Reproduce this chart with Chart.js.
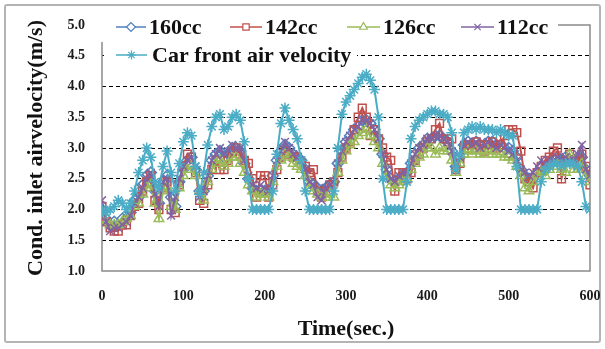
<!DOCTYPE html>
<html>
<head>
<meta charset="utf-8">
<script src="https://cdn.jsdelivr.net/npm/chart.js"></script>
<style>
body{margin:0;background:#fff;}
#frame{position:absolute;left:4px;top:4px;width:593px;height:335px;border:2px solid #b4b4b4;border-radius:3px;}
#wrap{position:absolute;left:0;top:0;width:605px;height:349px;}
</style>
</head>
<body>
<div id="frame"></div>
<div id="wrap"><canvas id="c"></canvas></div>
<script>
// time in seconds, one reading every 5 s
const times = [
  0,5,10,15,20,25,30,35,40,45,
  50,55,60,65,70,75,80,85,90,95,
  100,105,110,115,120,125,130,135,140,145,
  150,155,160,165,170,175,180,185,190,195,
  200,205,210,215,220,225,230,235,240,245,
  250,255,260,265,270,275,280,285,290,295,
  300,305,310,315,320,325,330,335,340,345,
  350,355,360,365,370,375,380,385,390,395,
  400,405,410,415,420,425,430,435,440,445,
  450,455,460,465,470,475,480,485,490,495,
  500,505,510,515,520,525,530,535,540,545,
  550,555,560,565,570,575,580,585,590,595,
  600
];

const v160 = [
  2.0,1.85,1.75,1.8,1.75,1.85,1.85,1.95,2.15,2.2,
  2.4,2.55,2.6,2.3,2.1,2.45,2.55,2.2,2.05,2.45,
  2.65,2.8,2.85,2.65,2.3,2.3,2.55,2.8,2.9,2.95,
  2.85,2.9,3.0,3.0,2.95,2.75,2.5,2.35,2.3,2.3,
  2.3,2.3,2.55,2.8,2.95,3.05,3.0,2.9,2.85,2.8,
  2.65,2.45,2.4,2.35,2.3,2.35,2.4,2.45,2.75,2.95,
  3.1,3.2,3.3,3.35,3.45,3.45,3.4,3.3,3.15,2.9,
  2.65,2.5,2.45,2.5,2.55,2.6,2.75,2.9,3.0,3.05,
  3.15,3.15,3.2,3.2,3.15,3.1,2.95,2.7,2.85,3.05,
  3.1,3.05,3.1,3.05,3.05,3.1,3.1,3.05,3.05,3.0,
  3.0,2.95,2.85,2.65,2.55,2.5,2.5,2.6,2.7,2.65,
  2.75,2.8,2.85,2.8,2.85,2.8,2.8,2.85,2.85,2.65,
  2.55
];

const v142 = [
  2.05,1.8,1.7,1.65,1.65,1.75,1.75,1.9,2.05,2.1,
  2.3,2.45,2.55,2.15,2.0,2.35,2.45,2.0,1.95,2.4,
  2.7,2.9,2.85,2.6,2.15,2.1,2.4,2.65,2.8,2.65,
  2.65,2.8,2.95,3.0,2.9,2.8,2.75,2.5,2.2,2.55,
  2.55,2.2,2.4,2.65,2.85,2.95,2.9,2.85,2.85,2.75,
  2.7,2.6,2.65,2.3,2.2,2.3,2.4,2.45,2.6,2.85,
  3.0,3.1,3.3,3.5,3.65,3.5,3.2,3.3,3.15,3.0,
  2.85,2.8,2.3,2.6,2.6,2.5,2.6,2.8,2.9,3.0,
  3.1,3.15,3.3,3.4,3.15,3.1,3.15,2.65,2.75,3.0,
  3.05,3.0,3.1,3.05,2.95,3.05,3.1,3.0,3.05,3.2,
  3.3,3.3,3.25,2.95,2.5,2.45,2.35,2.6,2.7,2.8,
  2.85,2.95,3.0,2.5,2.8,2.9,2.8,2.75,2.9,2.7,
  2.4
];

const v126 = [
  1.95,1.8,1.75,1.75,1.75,1.8,1.85,1.9,2.05,2.1,
  2.25,2.35,2.4,2.1,1.85,2.3,2.35,2.05,2.0,2.35,
  2.55,2.65,2.7,2.55,2.3,2.15,2.45,2.65,2.75,2.8,
  2.7,2.75,2.85,2.85,2.75,2.6,2.4,2.3,2.2,2.25,
  2.25,2.2,2.45,2.7,2.8,2.9,2.85,2.75,2.7,2.65,
  2.55,2.35,2.3,2.25,2.2,2.2,2.25,2.2,2.6,2.8,
  2.95,3.05,3.1,3.2,3.25,3.3,3.2,3.1,3.0,2.75,
  2.55,2.4,2.35,2.4,2.45,2.5,2.65,2.75,2.85,2.9,
  3.0,3.0,2.9,3.0,2.95,2.95,2.8,2.6,2.75,2.9,
  2.95,2.9,2.95,2.9,2.9,2.95,2.9,2.9,2.9,2.85,
  2.85,2.8,2.7,2.55,2.35,2.3,2.45,2.55,2.6,2.55,
  2.65,2.7,2.75,2.65,2.6,2.9,2.65,2.65,2.75,2.55,
  2.45
];

const v112 = [
  2.15,1.8,1.65,1.7,1.7,1.75,1.8,1.9,2.1,2.2,
  2.35,2.5,2.6,2.25,2.05,2.45,2.5,1.9,2.2,2.5,
  2.7,2.8,2.85,2.7,2.2,2.3,2.55,2.8,2.9,3.0,
  2.9,2.95,3.05,3.0,3.0,2.8,2.55,2.4,2.35,2.4,
  2.35,2.3,2.55,2.8,2.95,3.1,3.0,2.9,2.85,2.8,
  2.65,2.45,2.4,2.2,2.15,2.35,2.4,2.45,2.75,2.95,
  3.1,3.2,3.3,3.35,3.45,3.45,3.4,3.3,3.15,2.9,
  2.65,2.5,2.45,2.55,2.6,2.6,2.75,2.9,3.0,3.05,
  3.15,3.15,3.2,3.2,3.15,3.1,2.95,2.65,2.85,3.05,
  3.1,3.05,3.1,3.0,3.05,3.1,3.05,3.0,3.05,3.0,
  2.95,2.9,2.8,2.65,2.6,2.55,2.6,2.7,2.8,2.75,
  2.8,2.8,2.85,2.8,2.85,2.8,2.8,2.9,3.05,2.65,
  2.55
];

const vCar = [
  2.0,1.95,2.0,2.05,2.15,2.1,2.0,2.1,2.3,2.6,
  2.8,3.0,2.85,2.45,2.35,2.7,2.95,2.6,2.3,2.75,
  3.1,3.25,3.2,2.7,2.25,2.6,3.05,3.35,3.5,3.55,
  3.3,3.35,3.5,3.55,3.45,3.1,2.5,2.0,2.0,2.0,
  2.0,2.0,2.3,2.9,3.4,3.65,3.45,3.3,3.15,2.8,
  2.3,2.0,2.0,2.0,2.0,2.0,2.0,2.3,3.0,3.55,
  3.75,3.85,3.95,4.05,4.15,4.2,4.1,3.95,3.5,2.5,
  2.0,2.0,2.0,2.0,2.0,2.45,3.15,3.35,3.45,3.5,
  3.55,3.6,3.6,3.55,3.55,3.5,3.25,2.65,2.9,3.25,
  3.3,3.35,3.3,3.35,3.3,3.3,3.3,3.25,3.3,3.25,
  3.2,3.2,2.7,2.0,2.0,2.0,2.0,2.0,2.45,2.65,
  2.7,2.75,2.75,2.7,2.75,2.75,2.75,2.7,2.45,2.05,
  2.0
];

const yTicks = [1.0, 1.5, 2.0, 2.5, 3.0, 3.5, 4.0, 4.5, 5.0];

const serif = '"Liberation Serif", "Times New Roman", serif';

const toPoints = (arr) => times.map((t, i) => ({x: t, y: arr[i]}));

const series = (label, arr, color, style, order) => ({
  label: label,
  data: toPoints(arr),
  borderColor: color,
  backgroundColor: color,
  borderWidth: 2,
  pointStyle: style,
  pointRadius: 5.5,
  pointBorderWidth: 1.5,
  pointBorderColor: color,
  pointBackgroundColor: 'rgba(255,255,255,0)',
  tension: 0,
  order: order,
});

// legend drawn like the spreadsheet one: two rows over the top of the plot
const legendPos = [
  {ds: 0, x1: 116, x2: 146, tx: 149, y: 27},
  {ds: 1, x1: 230, x2: 262, tx: 265, y: 27},
  {ds: 2, x1: 347, x2: 380, tx: 383, y: 27},
  {ds: 3, x1: 461, x2: 494, tx: 497, y: 27},
  {ds: 4, x1: 116, x2: 147, tx: 152, y: 55},
];

const plotBox = {
  id: 'plotBox',
  beforeDatasetsDraw(chart) {
    const {ctx, chartArea: a} = chart;
    ctx.save();
    ctx.strokeStyle = '#8a8a8a';
    ctx.lineWidth = 1.5;
    ctx.strokeRect(a.left, a.top, a.right - a.left, a.bottom - a.top);
    ctx.restore();
  }
};

const sheetLegend = {
  id: 'sheetLegend',
  afterDraw(chart) {
    const ctx = chart.ctx;
    ctx.save();
    ctx.fillStyle = '#fff';
    ctx.fillRect(98, 8, 460, 34);
    ctx.fillRect(104, 42, 253, 27);
    ctx.font = 'bold 22px ' + serif;
    ctx.textBaseline = 'middle';
    for (const it of legendPos) {
      const ds = chart.data.datasets[it.ds];
      ctx.strokeStyle = ds.borderColor;
      ctx.lineWidth = 1.5;
      ctx.beginPath();
      ctx.moveTo(it.x1, it.y);
      ctx.lineTo(it.x2, it.y);
      ctx.stroke();
      ctx.fillStyle = '#fff';
      ctx.lineWidth = 1.2;
      if (Chart.helpers && Chart.helpers.drawPoint) {
        Chart.helpers.drawPoint(ctx, {pointStyle: ds.pointStyle, radius: 4.5, borderWidth: 1.2, rotation: 0}, (it.x1 + it.x2) / 2, it.y);
      }
      ctx.fillStyle = '#111';
      ctx.fillText(ds.label, it.tx, it.y + 1);
    }
    ctx.restore();
  }
};

new Chart(document.getElementById('c'), {
  type: 'line',
  data: {
    datasets: [
      series('160cc', v160, '#4F81BD', 'rectRot', 5),
      series('142cc', v142, '#C0504D', 'rect', 4),
      series('126cc', v126, '#9BBB59', 'triangle', 3),
      series('112cc', v112, '#8064A2', 'crossRot', 2),
      series('Car front air velocity', vCar, '#4BACC6', 'star', 1),
    ],
  },
  options: {
    responsive: true,
    maintainAspectRatio: false,
    animation: false,
    layout: {padding: {top: 25, right: 15, left: 0, bottom: 0}},
    plugins: {legend: {display: false}, tooltip: {enabled: false}},
    scales: {
      x: {
        type: 'linear',
        min: 0,
        max: 600,
        ticks: {stepSize: 100, padding: 17, color: '#1a1a1a', font: {family: serif, size: 14, weight: 'bold'}},
        grid: {display: false, drawTicks: false},
        border: {display: false},
        title: {display: true, text: 'Time(sec.)', color: '#111', font: {family: serif, size: 22, weight: 'bold'}, padding: {top: 0, bottom: 6}},
        afterFit(s) { s.height = 78; s.paddingLeft = 0; s.paddingRight = 0; },
      },
      y: {
        min: yTicks[0],
        max: yTicks[yTicks.length - 1],
        afterBuildTicks(s) { s.ticks = yTicks.map(v => ({value: v})); },
        ticks: {padding: 17, color: '#1a1a1a', font: {family: serif, size: 14, weight: 'bold'}, callback: v => Number(v).toFixed(1)},
        grid: {
          drawTicks: false,
          lineWidth: 1,
          color: c => (c.tick && c.tick.value > 1.01 && c.tick.value < 4.99) ? '#000' : 'rgba(0,0,0,0)',
        },
        border: {display: false, dash: [4, 3]},
        title: {display: true, text: 'Cond. inlet airvelocity(m/s)', color: '#111', font: {family: serif, size: 22, weight: 'bold'}, padding: {top: 23, bottom: 0}},
        afterFit(s) { s.width = 102; s.paddingTop = 0; s.paddingBottom = 0; },
      },
    },
  },
  plugins: [plotBox, sheetLegend],
});
</script>
</body>
</html>
